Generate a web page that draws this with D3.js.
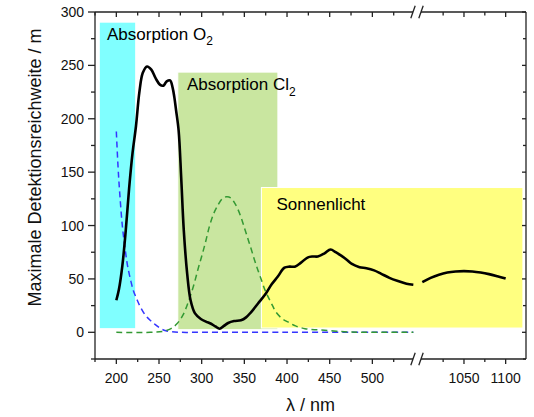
<!DOCTYPE html>
<html>
<head>
<meta charset="utf-8">
<script src="https://cdn.jsdelivr.net/npm/d3@7/dist/d3.min.js"></script>
<style>
  html, body { margin: 0; padding: 0; background: #fff; }
  svg { display: block; font-family: "Liberation Sans", Arial, sans-serif; }
</style>
</head>
<body>
<svg id="chart" width="534" height="417"></svg>
<script>
// Detection range limited by O2 absorption and sunlight (black), wavelength in nm
const rangeLow = [
  [200,30],[203,40],[207,62],[211,95],[215,135],[219,168],[223,193],[227,225],[231,243],
  [236,249],[241,246],[246,238],[251,232],[255,231],[259,235],[263,236],[266,229],[268,220],
  [270,208],[273,189],[276,145],[279,96],[283,55],[287,30],[292,18],[299,12.5],[305,10],
  [311,8],[316,5.5],[321,3.4],[326,6],[331,8.7],[338,10.5],[346,11.3],[352,14],[358,19],
  [366,27],[375,36],[382,45],[389,52],[397,60.5],[403,61.5],[409,61.5],[416,65],[424,70],
  [430,71],[436,71],[444,74],[451,77.5],[457,75],[463,72],[470,68],[476,64],[485,61],
  [493,60],[502,58],[510,55],[520,51],[530,48],[540,45.5],[548,44.5]
];
const rangeHigh = [
  [1000,47],[1010,51],[1020,54],[1030,56],[1040,57],[1050,57.3],[1060,57],[1070,56],
  [1080,54.5],[1090,52.5],[1100,50.3]
];
// O2 absorption profile (blue dashed)
const o2Curve = [
  [200,188],[202,155],[204,130],[207,100],[210,80],[213,63],[217,48],[220,39],[224,31],
  [228,24],[234,16],[240,11],[246,7],[252,3.5],[258,1.5],[265,0.5],[275,0],[300,0],
  [400,0],[500,0],[548,0]
];
// Cl2 absorption profile (green dashed)
const cl2Curve = [
  [200,0],[240,0],[255,1],[264,3.4],[271,8],[278,16],[285,30],[291,45],[296,60],[301,74],
  [305,86],[309,99],[314,111],[319,119],[324,125],[329,127],[334,126],[338,122],[342,116],
  [346,108],[350,98],[354,88],[358,78],[362,67.5],[366,58],[370,49],[374,40],[378,33],
  [383,25],[387,19],[394,13],[401,9.7],[410,6],[421,3.4],[432,2.5],[444,1.9],[458,1],
  [471,0.3],[490,0],[548,0]
];
// Shaded regions: wavelength span and value span
const bands = [
  { name: "o2",  x0: 180, x1: 222.7,  y0: 3.4, y1: 290.5, fill: "#80ffff" },
  { name: "cl2", x0: 272, x1: 389.3,  y0: 2.5, y1: 243.7, fill: "#c9e6a0" },
  { name: "sun", x0: 370, x1: 1120.7, y0: 4,   y1: 135.6, fill: "#ffff80" }
];
const yTicks = [0, 50, 100, 150, 200, 250, 300];
const yMinor = [-25, 25, 75, 125, 175, 225, 275];
const xTicksLow = [200, 250, 300, 350, 400, 450, 500];
const xMinorLow = [175, 225, 275, 325, 375, 425, 475, 525];
const xTicksHigh = [1050, 1100];
const xMinorHigh = [1025, 1075];

const svg = d3.select("#chart");
const L = 95, R = 526, T = 12, B = 359, brk = 417;

const xLow = d3.scaleLinear().domain([175, 555]).range([L, 419.3]);
const xHigh = d3.scaleLinear().domain([1000, 1125]).range([422.3, 526.5]);
const y = d3.scaleLinear().domain([-25, 300]).range([B, T]);
const xAny = v => v >= 800 ? xHigh(v) : xLow(v);

// bands
svg.append("g").selectAll("rect").data(bands).join("rect")
  .attr("x", d => xAny(d.x0))
  .attr("y", d => y(d.y1))
  .attr("width", d => xAny(d.x1) - xAny(d.x0))
  .attr("height", d => y(d.y0) - y(d.y1))
  .attr("fill", d => d.fill)
  .attr("stroke", "#fff").attr("stroke-width", 1);

// curves
const line = sc => d3.line().x(d => sc(d[0])).y(d => y(d[1])).curve(d3.curveCatmullRom.alpha(0.5));
svg.append("path").attr("d", line(xLow)(o2Curve))
  .attr("fill", "none").attr("stroke", "#3535ff").attr("stroke-width", 1.5).attr("stroke-dasharray", "6,4");
svg.append("path").attr("d", line(xLow)(cl2Curve))
  .attr("fill", "none").attr("stroke", "#339933").attr("stroke-width", 1.5).attr("stroke-dasharray", "6,4");
svg.append("path").attr("d", line(xLow)(rangeLow))
  .attr("fill", "none").attr("stroke", "#000").attr("stroke-width", 2.6);
svg.append("path").attr("d", line(xHigh)(rangeHigh))
  .attr("fill", "none").attr("stroke", "#000").attr("stroke-width", 2.6);

// annotations
function note(x, yb, main, sub) {
  const t = svg.append("text").attr("x", x).attr("y", yb)
    .attr("font-size", 17).attr("fill", "#000").text(main);
  if (sub) t.append("tspan").attr("font-size", 12).attr("dy", 5.5).text(sub);
}
note(107, 39.5, "Absorption O", "2");
note(187, 90, "Absorption Cl", "2");
note(276.5, 210, "Sonnenlicht");

// frame
const ax = "#222";
const fr = svg.append("g").attr("stroke", ax).attr("stroke-width", 1.3).attr("fill", "none");
fr.append("line").attr("x1", L).attr("x2", L).attr("y1", T).attr("y2", B);
fr.append("line").attr("x1", R).attr("x2", R).attr("y1", T).attr("y2", B);
[T, B].forEach(yy => {
  fr.append("line").attr("x1", L).attr("x2", brk - 4).attr("y1", yy).attr("y2", yy);
  fr.append("line").attr("x1", brk + 4).attr("x2", R).attr("y1", yy).attr("y2", yy);
  [brk - 4, brk + 4].forEach(cx => {
    fr.append("line").attr("x1", cx - 2.2).attr("y1", yy + 6.2).attr("x2", cx + 2.2).attr("y2", yy - 6.2);
  });
});

// ticks
function tickSet(vals, sc, kind, len) {
  const g = svg.append("g").attr("stroke", ax).attr("stroke-width", 1.3);
  vals.forEach(v => {
    if (kind === "bottom") g.append("line").attr("x1", sc(v)).attr("x2", sc(v)).attr("y1", B).attr("y2", B + len);
    if (kind === "top") g.append("line").attr("x1", sc(v)).attr("x2", sc(v)).attr("y1", T).attr("y2", T + len);
    if (kind === "left") g.append("line").attr("y1", sc(v)).attr("y2", sc(v)).attr("x1", L).attr("x2", L - len);
    if (kind === "right") g.append("line").attr("y1", sc(v)).attr("y2", sc(v)).attr("x1", R).attr("x2", R - len);
  });
}
tickSet(xTicksLow, xLow, "bottom", 5); tickSet(xMinorLow, xLow, "bottom", 3);
tickSet(xTicksHigh, xHigh, "bottom", 5); tickSet(xMinorHigh, xHigh, "bottom", 3);
tickSet(xTicksLow, xLow, "top", 5); tickSet(xMinorLow, xLow, "top", 3.5);
tickSet(xTicksHigh, xHigh, "top", 5); tickSet(xMinorHigh, xHigh, "top", 3.5);
tickSet(yTicks, y, "left", 7); tickSet(yMinor, y, "left", 4);
tickSet(yTicks, y, "right", 4); tickSet(yMinor, y, "right", 3);

// tick labels
const lab = svg.append("g").attr("font-size", 14).attr("fill", "#111");
yTicks.forEach(v => lab.append("text").attr("x", 84).attr("y", y(v) + 5)
  .attr("text-anchor", "end").text(v));
xTicksLow.forEach(v => lab.append("text").attr("x", xLow(v)).attr("y", 383)
  .attr("text-anchor", "middle").text(v));
xTicksHigh.forEach(v => lab.append("text").attr("x", xHigh(v)).attr("y", 383)
  .attr("text-anchor", "middle").text(v));

// axis titles
svg.append("text").attr("transform", "translate(41,167.5) rotate(-90)")
  .attr("text-anchor", "middle").attr("font-size", 18).attr("fill", "#111")
  .text("Maximale Detektionsreichweite / m");
svg.append("text").attr("x", 310.5).attr("y", 411)
  .attr("text-anchor", "middle").attr("font-size", 18).attr("fill", "#111")
  .text("λ / nm");
</script>
</body>
</html>
